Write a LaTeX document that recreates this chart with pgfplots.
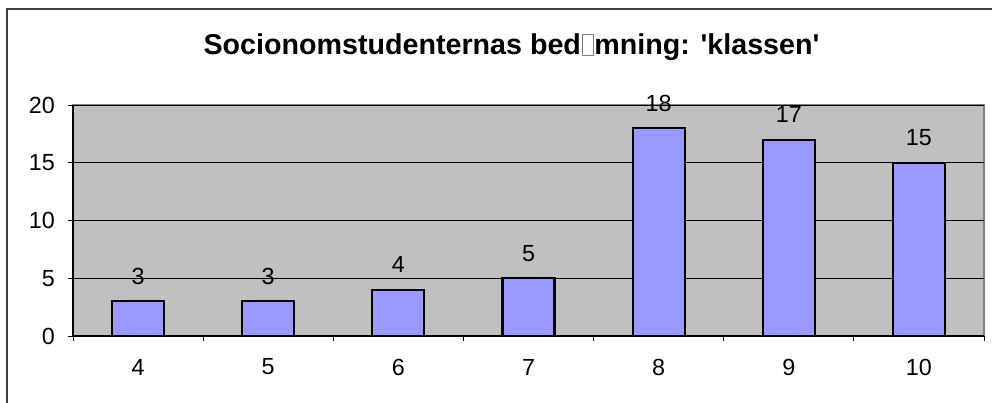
\documentclass[border=0pt]{standalone}
\usepackage{pgfplots}
\pgfplotsset{compat=1.18}
\usepackage{fontspec}
\setmainfont{Liberation Sans}
\definecolor{plotbg}{HTML}{C0C0C0}
\definecolor{barfill}{HTML}{9999FF}
\definecolor{framegray}{HTML}{808080}
\newcommand{\lblfont}{\fontsize{17.5}{19}\selectfont}
\newcommand{\sq}{\XeTeXglyph\XeTeXcharglyph"27\relax}
\begin{document}
\begin{tikzpicture}
\useasboundingbox (0,0) rectangle (744pt,302.25pt);
\draw[line width=1.3pt, color=black!75] (5.25pt,-20pt) rectangle (780pt,295.5pt);
\node[anchor=base, font=\fontsize{21.5}{24}\selectfont\bfseries] at (383.6pt,261pt)
  {Socionomstudenternas bed\hspace{0.6pt}{\color{framegray}\setlength\fboxsep{0pt}\setlength\fboxrule{0.7pt}\fbox{\rule{0pt}{15pt}\hspace{7.5pt}}}\hspace{0.6pt}mning: \sq klassen\sq};
\begin{axis}[
  at={(54.75pt,50.25pt)}, anchor=south west,
  scale only axis, width=683.25pt, height=173.25pt,
  xmin=-0.5, xmax=6.5, ymin=0, ymax=20,
  axis background/.style={fill=plotbg, draw=framegray, line width=0.8pt},
  axis x line*=bottom, axis y line*=left,
  axis line style={-, black, line width=0.8pt},
  xtick={0,...,6}, xticklabels={4,5,6,7,8,9,10},
  minor xtick={-0.5,0.5,...,6.5},
  ytick={0,5,10,15,20},
  ymajorgrids, major grid style={black, line width=0.7pt},
  tick align=outside,
  major x tick style={draw=none},
  major y tick style={black, line width=0.7pt},
  minor x tick style={black, line width=0.7pt},
  major tick length=3.75pt, minor tick length=3.75pt,
  /pgf/number format/assume math mode=true,
  xticklabel style={font=\lblfont, anchor=center, yshift=-19.5pt},
  yticklabel style={font=\lblfont, anchor=east, inner sep=0pt, xshift=-9.75pt},
  ybar, bar width=39pt,
  nodes near coords,
  every node near coord/.append style={anchor=center, yshift=18.75pt, font=\lblfont, /pgf/number format/assume math mode=true},
  clip=false,
]
\addplot[fill=barfill, draw=black, line width=1.6pt, bar shift=0pt]
  coordinates {(0,3) (1,3) (2,4) (3,5) (4,18) (5,17) (6,15)};
\end{axis}
\end{tikzpicture}
\end{document}
